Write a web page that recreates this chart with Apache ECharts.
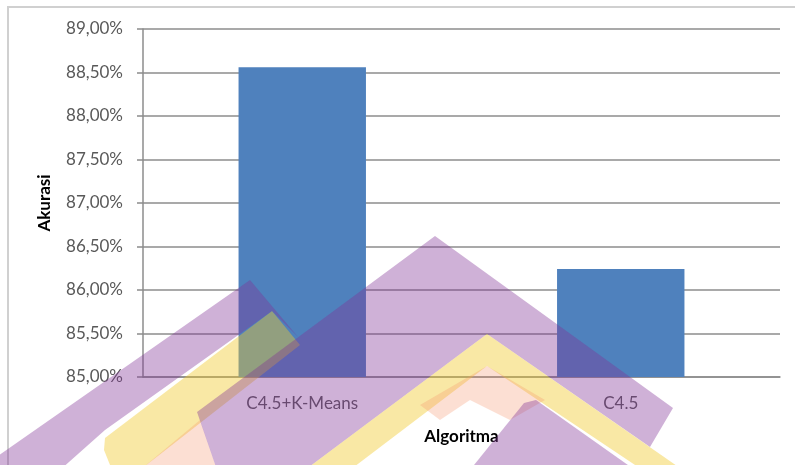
<!DOCTYPE html>
<html>
<head>
<meta charset="utf-8">
<script src="https://cdn.jsdelivr.net/npm/echarts@6/dist/echarts.min.js"></script>
<style>
  html, body { margin: 0; padding: 0; background: #fff; }
  #chart { width: 795px; height: 465px; }
</style>
</head>
<body>
<div id="chart"></div>
<script>
const categories = ['C4.5+K-Means', 'C4.5'];
const akurasi = [88.56, 86.24];
const yMin = 85;
const yMax = 89;
const yStep = 0.5;

const font = 'Lato, "Open Sans", sans-serif';
const purple = 'rgba(130, 50, 150, 0.38)';
const yellow = 'rgba(240, 200, 40, 0.42)';
const peach = 'rgba(245, 150, 110, 0.3)';

// logo watermark drawn over the plot
function shape(points, fill) {
  return { type: 'polygon', z: 100, silent: true, shape: { points }, style: { fill } };
}

const watermark = [
  shape([[105, 438], [272, 311], [300, 345], [140, 470], [112, 470], [104, 450]], yellow),
  shape([[-5, 458], [250, 280], [298, 337], [272, 311], [105, 430], [60, 470], [-5, 470]], purple),
  shape([[140, 470], [200, 420], [217, 470]], peach),
  shape([[197, 412], [435, 236], [673, 408], [650, 447], [487, 334], [305, 470], [217, 470]], purple),
  shape([[305, 470], [487, 334], [690, 475], [650, 475], [487, 366], [350, 470]], yellow),
  shape([[420, 405], [487, 366], [545, 400], [510, 420], [470, 400], [440, 420]], peach),
  shape([[470, 470], [524, 403], [536, 400], [635, 470]], purple)
];

const chart = echarts.init(document.getElementById('chart'));

chart.setOption({
  backgroundColor: '#fff',
  animation: false,
  grid: { left: 143, right: 15, top: 29, bottom: 88 },
  xAxis: {
    type: 'category',
    data: categories,
    name: 'Algoritma',
    nameLocation: 'middle',
    nameGap: 51,
    nameTextStyle: { fontFamily: font, fontSize: 17, fontWeight: 'bold', color: '#000' },
    axisLine: { lineStyle: { color: '#8c8c8c', width: 1.5 } },
    axisTick: { show: false },
    axisLabel: { fontFamily: font, fontSize: 17, color: '#595959', margin: 18 }
  },
  yAxis: {
    type: 'value',
    min: yMin,
    max: yMax,
    interval: yStep,
    name: 'Akurasi',
    nameLocation: 'middle',
    nameGap: 90,
    nameTextStyle: { fontFamily: font, fontSize: 17, fontWeight: 'bold', color: '#000' },
    axisLine: { show: true, lineStyle: { color: '#8c8c8c', width: 1.5 } },
    axisTick: { show: true, length: 6, lineStyle: { color: '#8c8c8c', width: 1.5 } },
    axisLabel: {
      fontFamily: font, fontSize: 17, color: '#595959', margin: 20,
      formatter: v => v.toFixed(2).replace('.', ',') + '%'
    },
    splitLine: { lineStyle: { color: '#8c8c8c', width: 1.5 } }
  },
  series: [{
    type: 'bar',
    data: akurasi,
    barWidth: '40%',
    itemStyle: { color: '#4F81BD' }
  }],
  graphic: [
    { type: 'rect', z: 0, silent: true, shape: { x: 8, y: 7, width: 800, height: 480 },
      style: { fill: 'none', stroke: '#d0d0d0', lineWidth: 2 } },
    ...watermark
  ]
});
</script>
</body>
</html>
